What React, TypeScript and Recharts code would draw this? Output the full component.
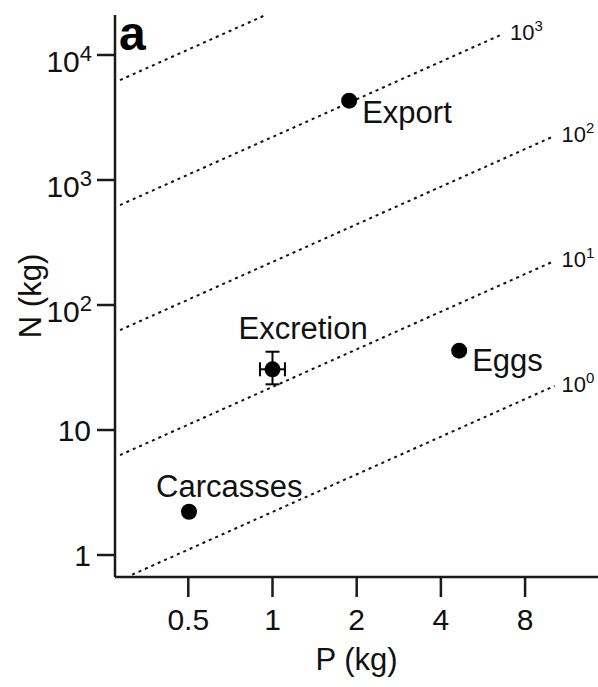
import { ErrorBar, Label, ReferenceDot, ReferenceLine, Scatter, ScatterChart, XAxis, YAxis } from "recharts";

const FONT = "'Liberation Sans', Arial, sans-serif";
const INK = "#111";

// point estimates (kg)
const sources = ["Export", "Excretion", "Eggs", "Carcasses"];
const pKg = [1.88, 1.0, 4.65, 0.503];
const nKg = [4310, 30.6, 43.1, 2.22];
// only excretion has error bars: [below, above]
const pErr: (number[] | null)[] = [null, [0.098, 0.108], null, null];
const nErr: (number[] | null)[] = [null, [7.4, 11.7], null, null];

const xTicks = [0.5, 1, 2, 4, 8];
const yTicks = [1, 10, 100, 1000, 10000];

// dotted iso-ratio guides, N:P = 10^k (drawn at 2.21x the plain mass ratio)
const ratioExp = [0, 1, 2, 3, 4];
const ratioStartP = [0.315, 0.285, 0.285, 0.285, 0.285];
const ratioEndP = [10.2, 10.2, 10.2, 6.67, 0.94];
const ratioShift = 2.21;

const labelPos: Record<string, { dx: number; dy: number }> = {
  Export: { dx: 13, dy: 22 },
  Eggs: { dx: 13, dy: 20 },
  Excretion: { dx: -34, dy: -30 },
  Carcasses: { dx: -33, dy: -15 },
};

const points = sources.map((name, i) => ({
  name,
  p: pKg[i],
  n: nKg[i],
  pErr: pErr[i],
  nErr: nErr[i],
}));
const plainPoints = points.filter((d) => !d.pErr);
const errPoints = points.filter((d) => d.pErr);

const guides = ratioExp.map((k, i) => {
  const r = Math.pow(10, k) * ratioShift;
  return {
    k,
    x1: ratioStartP[i],
    y1: ratioStartP[i] * r,
    x2: ratioEndP[i],
    y2: ratioEndP[i] * r,
  };
});

function PointShape(props: any) {
  const { cx, cy, payload } = props;
  const pos = labelPos[payload.name];
  return (
    <g>
      <circle cx={cx} cy={cy} r={8} fill="#000" />
      <text x={cx + pos.dx} y={cy + pos.dy} fontSize={31} fontFamily={FONT} fill={INK}>
        {payload.name}
      </text>
    </g>
  );
}

function YTick({ x, y, payload }: any) {
  const v = payload.value as number;
  const e = Math.round(Math.log10(v));
  if (e < 2) {
    return (
      <text x={x - 4} y={y + 11} textAnchor="end" fontSize={30} fontFamily={FONT} fill={INK}>
        {v}
      </text>
    );
  }
  return (
    <text x={x - 3} y={y + 17} textAnchor="end" fontSize={30} fontFamily={FONT} fill={INK}>
      <tspan>10</tspan>
      <tspan dy={-11} fontSize={22}>
        {e}
      </tspan>
    </text>
  );
}

function XTick({ x, y, payload }: any) {
  return (
    <text x={x} y={y + 31} textAnchor="middle" fontSize={30} fontFamily={FONT} fill={INK}>
      {payload.value}
    </text>
  );
}

const axisStroke = { stroke: "#1a1a1a", strokeWidth: 2.5 };

export default function App() {
  return (
    <div style={{ position: "absolute", left: 0, top: 0, background: "#fff" }}>
      <ScatterChart width={598} height={687} margin={{ top: 15, right: 0, bottom: 0, left: 0 }}>
        <XAxis
          type="number"
          dataKey="p"
          scale="log"
          domain={[0.2735, 14.58]}
          allowDataOverflow
          ticks={xTicks}
          tick={<XTick />}
          tickSize={20}
          height={110}
          axisLine={axisStroke}
          tickLine={axisStroke}
        >
          <Label
            content={({ viewBox }: any) => (
              <text
                x={viewBox.x + viewBox.width / 2}
                y={viewBox.y + 93}
                textAnchor="middle"
                fontSize={31}
                fontFamily={FONT}
                fill={INK}
              >
                P (kg)
              </text>
            )}
          />
        </XAxis>
        <YAxis
          type="number"
          dataKey="n"
          scale="log"
          domain={[0.667, 20890]}
          allowDataOverflow
          ticks={yTicks}
          tick={<YTick />}
          tickSize={18}
          width={115}
          axisLine={axisStroke}
          tickLine={axisStroke}
        >
          <Label
            content={({ viewBox }: any) => {
              const cy = viewBox.y + viewBox.height / 2;
              return (
                <text
                  x={41}
                  y={cy}
                  transform={`rotate(-90, 41, ${cy})`}
                  textAnchor="middle"
                  fontSize={31}
                  fontFamily={FONT}
                  fill={INK}
                >
                  N (kg)
                </text>
              );
            }}
          />
          <Label
            content={({ viewBox }: any) => (
              <text
                x={viewBox.x + viewBox.width + 4}
                y={viewBox.y + 35}
                fontSize={48}
                fontWeight="bold"
                fontFamily={FONT}
                fill="#000"
              >
                a
              </text>
            )}
          />
        </YAxis>

        {guides.map((g) => (
          <ReferenceLine
            key={`line-${g.k}`}
            segment={[
              { x: g.x1, y: g.y1 },
              { x: g.x2, y: g.y2 },
            ]}
            stroke="#111"
            strokeWidth={2}
            strokeDasharray="3 4"
            ifOverflow="visible"
          />
        ))}
        {guides
          .filter((g) => g.k < 4)
          .map((g) => (
            <ReferenceDot
              key={`lab-${g.k}`}
              x={g.x2}
              y={g.y2}
              r={0}
              ifOverflow="visible"
              shape={(p: any) => (
                <text x={p.cx + 7} y={p.cy + 6} fontSize={22} fontFamily={FONT} fill={INK}>
                  <tspan>10</tspan>
                  <tspan dy={-9} fontSize={15}>
                    {g.k}
                  </tspan>
                </text>
              )}
            />
          ))}

        <Scatter data={plainPoints} shape={<PointShape />} isAnimationActive={false} />
        <Scatter data={errPoints} shape={<PointShape />} isAnimationActive={false}>
          <ErrorBar dataKey="pErr" direction="x" width={7} stroke="#000" strokeWidth={2} />
          <ErrorBar dataKey="nErr" direction="y" width={7} stroke="#000" strokeWidth={2} />
        </Scatter>
      </ScatterChart>
    </div>
  );
}
